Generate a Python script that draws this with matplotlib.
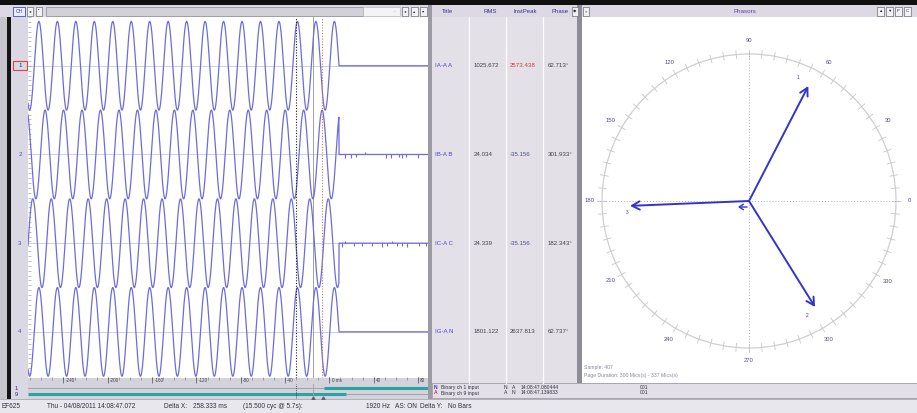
import numpy as np
import matplotlib.pyplot as plt
from matplotlib.patches import Rectangle, Circle
from matplotlib.transforms import blended_transform_factory

plt.rcParams['font.family'] = ['Liberation Sans', 'DejaVu Sans']

W, H = 917, 413

# ─────────────────────────────────────────────
# Data
# ─────────────────────────────────────────────

channel_nums   = ["1", "2", "3", "4"]
channel_pos    = [1, 2, 3, 4]
channel_titles = ["IA-A A", "IB-A B", "IC-A C", "IG-A N"]
rms_text       = ["1025.672", "24.034", "24.339", "1801.122"]
peak_text      = ["2573.438", "-35.156", "-35.156", "2637.813"]
phase_deg      = [62.713, 301.933, 182.343, 62.737]
wave_amp       = [0.5, 0.5, 0.5, 0.5]

freq_hz  = 60.0
t_ref_ms = 7.4      # where the 0 deg reference sits on the time axis
trip_ms  = 8.6      # currents stop here
t_start, t_end = -272.0, 89.0

# small residual blips after the trip (ms, value in channel units)
ch2_blip_ms  = [14.4, 19.8, 24.3, 32.4, 51.4, 55.9, 63.0, 65.8, 69.4, 80.2]
ch2_blip_val = [-0.04, -0.035, -0.03, 0.03, -0.035, -0.04, -0.03, -0.04, -0.03, -0.035]
ch3_blip_ms  = [11.7, 14.4, 22.5, 29.7, 38.7, 47.7, 52.3, 56.8, 61.3, 65.8, 70.3, 81.1, 87.4]
ch3_blip_val = [-0.04, 0.03, -0.03, -0.035, -0.03, -0.04, -0.03, 0.025, -0.035, -0.03, -0.04, -0.035, -0.03]

time_ticks  = [-240, -200, -160, -120, -80, -40, 0, 40, 80]
time_labels = ["-240", "-200", "-160", "-120", "-80", "-40", "0 ms", "40", "80"]
cursor_ms   = [-30.5, -14.5, -6.5]

binary_names  = ["1", "9"]
binary_edges  = [[-272.0, -4.5, 89.0], [-272.0, 15.3, 89.0]]
binary_states = [[0, 1], [1, 0]]
binary_rows   = ["Binary ch 1 input", "Binary ch 9 input"]
binary_flags  = [("N", "A"), ("A", "N")]
binary_times  = ["14:08:47.080444", "14:08:47.139833"]
binary_count  = ["001", "001"]

phasor_ids   = ["1", "2", "3"]
phasor_angle = [62.713, 301.933, 182.343]
phasor_len   = [0.88, 0.85, 0.81]      # fraction of ring radius
ring_labels  = [0, 30, 60, 90, 120, 150, 180, 210, 240, 270, 300, 330]

# ─────────────────────────────────────────────
# Colours
# ─────────────────────────────────────────────

HEAD   = "#dcd9e4"
PANEL  = "#dad8e2"
TABLE  = "#e4e0e8"
WAVE   = "#6c6cdc"
PHASOR = "#3434c8"
TEAL   = "#2aa3a3"
TXT    = "#34348a"

fig = plt.figure(figsize=(W / 100, H / 100), dpi=100)
fig.patch.set_facecolor("#d4d2da")


def px_axes(x0, y0, x1, y1):
    return fig.add_axes([x0 / W, 1 - y1 / H, (x1 - x0) / W, (y1 - y0) / H])


cv = px_axes(0, 0, W, H)
cv.set_xlim(0, W)
cv.set_ylim(H, 0)
cv.axis("off")


def rect(x0, y0, x1, y1, fc, ec="none", lw=0.0):
    cv.add_patch(Rectangle((x0, y0), x1 - x0, y1 - y0, fc=fc, ec=ec, lw=lw))


def button(x0, x1, glyph, y0=6.5, y1=15.5):
    rect(x0, y0, x1, y1, "#f2f2f4", "#6e6e78", 0.5)
    cv.text((x0 + x1) / 2, (y0 + y1) / 2 + 0.3, glyph, fontsize=3.2,
            ha="center", va="center", color="#303040")


# ─────────────────────────────────────────────
# Window chrome
# ─────────────────────────────────────────────

rect(0, 0, W, 4.5, "#101010")
rect(0, 4.5, W, 17, HEAD)
rect(0, 17, 7, 399, "#c6c4cc")
rect(7, 17, 11, 399, "#141414")
rect(11, 17, 28, 399, PANEL)
rect(428, 4.5, 432, 399, "#9c9aa4")
rect(432, 17, 577, 383, TABLE)
for xd in [469, 506, 543]:
    cv.plot([xd, xd], [17, 383], color="white", lw=0.9)
rect(577, 4.5, 582, 383, "#8e8c96")
rect(432, 383, W, 398, "#e2dfe8", "#a09ea8", 0.6)
rect(0, 399, W, 413, "#e9e7ee")
cv.plot([0, W], [399, 399], color="#a8a6b0", lw=0.6)

# left header
rect(13, 6.5, 25, 15.5, "#ececf6", "#4a4ac0", 0.6)
cv.text(19, 11.3, "CH", fontsize=3.6, ha="center", va="center", color="#3a3ab0")
button(27, 33, "◂")
button(36, 42, "•")
rect(46, 6.5, 363, 15.5, "#d2d0d8", "#8a8a92", 0.5)
rect(363, 6.5, 400, 15.5, "#f4f4f6", "#b0b0b8", 0.4)
cv.text(394, 11.3, "·", fontsize=4, ha="center", va="center", color="#505050")
button(402, 408, "◂")
button(411, 418, "▴")
button(420, 427, "▾")

# table header
for x, s in zip([448, 490, 525, 560], ["Title", "RMS", "InstPeak", "Phase"]):
    cv.text(x, 11.3, s, fontsize=4.3, ha="center", va="center", color=TXT)
button(572, 578, "◆")
button(583, 589, "×")

# phasor header
cv.text(745, 11.3, "Phasors", fontsize=4.5, ha="center", va="center", color="#6040a0")
for x0, g in zip([877, 886, 895, 904], ["▲", "▼", "P", "C"]):
    button(x0, x0 + 7, g)

# ─────────────────────────────────────────────
# Waveforms
# ─────────────────────────────────────────────

ax = px_axes(28, 17, 428, 378)
ax.set_facecolor("white")
ax.set_xlim(t_start, t_end)
ax.set_ylim(4.52, 0.45)
for sp in ax.spines.values():
    sp.set_visible(False)
ax.set_xticks([])
ax.set_yticks([])
ax.set_yticks(np.arange(0.45, 4.52, 0.055), minor=True)
ax.tick_params(axis="y", which="minor", direction="in", length=2.5,
               width=0.4, color="#8c8ca0", labelleft=False)

t = np.linspace(t_start, t_end, 4000)
omega = 2 * np.pi * freq_hz / 1000.0
for k in range(4):
    y = wave_amp[k] * np.cos(omega * (t - t_ref_ms) + np.deg2rad(phase_deg[k]))
    y[t > trip_ms] = 0.0
    ax.axhline(channel_pos[k], color="#c4c4ee", lw=0.6, zorder=1)
    ax.plot(t, channel_pos[k] - y, color=WAVE, lw=0.9, zorder=3)

ax.vlines(ch2_blip_ms, channel_pos[1], channel_pos[1] - np.array(ch2_blip_val),
          color=WAVE, lw=0.8, zorder=3)
ax.vlines(ch3_blip_ms, channel_pos[2], channel_pos[2] - np.array(ch3_blip_val),
          color=WAVE, lw=0.8, zorder=3)

ax.axvline(cursor_ms[0], color="#202020", ls=(0, (1, 1.5)), lw=0.8, zorder=4)
ax.axvline(cursor_ms[1], color="#a0a0a0", lw=0.7, zorder=2)
ax.axvline(cursor_ms[2], color="#e07050", ls=(0, (1, 1.5)), lw=0.8, zorder=4)

# channel numbers in the gutter
gut = blended_transform_factory(cv.transData, ax.transData)
for k in range(4):
    cv.text(20, channel_pos[k], channel_nums[k], transform=gut, fontsize=4.5,
            ha="center", va="center",
            color="#303060" if k == 0 else "#5050c0")
cv.add_patch(Rectangle((13, channel_pos[0] - 0.05), 14, 0.1, transform=gut,
                       fill=False, ec="#e04040", lw=0.8))

# table rows
for k in range(4):
    cv.text(435, channel_pos[k], channel_titles[k], transform=gut, fontsize=4.4,
            ha="left", va="center", color="#4848d8")
    cv.text(474, channel_pos[k], rms_text[k], transform=gut, fontsize=4.4,
            ha="left", va="center", color="#404048")
    cv.text(510, channel_pos[k], peak_text[k], transform=gut, fontsize=4.4,
            ha="left", va="center",
            color="#d03a3a" if k == 0 else ("#4a4a9a" if k in (1, 2) else "#404048"))
    cv.text(548, channel_pos[k], f"{phase_deg[k]:.3f}°", transform=gut, fontsize=4.4,
            ha="left", va="center", color="#404048")

# ─────────────────────────────────────────────
# Time ruler
# ─────────────────────────────────────────────

ru = px_axes(28, 377, 428, 384)
ru.set_facecolor("#f4f4f8")
ru.set_xlim(t_start, t_end)
ru.set_ylim(0, 1)
ru.axis("off")
ru.vlines(np.arange(-270, 90, 10), 0.55, 1.0, color="#707080", lw=0.4)
ru.vlines(time_ticks, 0.2, 1.0, color="#505060", lw=0.5)
for tk, lb in zip(time_ticks, time_labels):
    ru.text(tk + 2, 0.45, lb, fontsize=3.3, ha="left", va="center", color="#404050")

# ─────────────────────────────────────────────
# Binary channels
# ─────────────────────────────────────────────

bx = px_axes(28, 384, 428, 399)
bx.set_facecolor("white")
bx.set_xlim(t_start, t_end)
bx.set_ylim(1, 0)
bx.axis("off")
rows_y = [0.28, 0.68]
for r in range(2):
    ed = binary_edges[r]
    for s in range(len(binary_states[r])):
        if binary_states[r][s]:
            bx.plot([ed[s], ed[s + 1]], [rows_y[r], rows_y[r]], color=TEAL, lw=2.2,
                    solid_capstyle="butt")
        else:
            bx.plot([ed[s], ed[s + 1]], [rows_y[r], rows_y[r]], color="#9a9aa4", lw=0.6)
    cv.text(16, 384 + 15 * rows_y[r], binary_names[r], fontsize=4.2, ha="center",
            va="center", color="#303080")
bx.axvline(cursor_ms[0], color="#202020", ls=(0, (1, 1.5)), lw=0.6)
bx.axvline(cursor_ms[1], color="#a0a0a0", lw=0.6)
bx.plot([cursor_ms[1], cursor_ms[2] + 1], [0.92, 0.92], ls="none", marker="^",
        ms=2.2, color="#606070")

# binary list on the right
for r in range(2):
    yy = 387.5 + 5.5 * r
    cv.text(434, yy, binary_flags[r][0], fontsize=3.6, ha="left", va="center",
            color="#3434c8" if r == 0 else "#d03a3a", fontweight="bold")
    cv.text(441, yy, binary_rows[r], fontsize=3.6, ha="left", va="center", color="#303040")
    cv.text(504, yy, binary_flags[r][0], fontsize=3.6, ha="left", va="center", color="#303040")
    cv.text(512, yy, binary_flags[r][1], fontsize=3.6, ha="left", va="center", color="#303040")
    cv.text(521, yy, binary_times[r], fontsize=3.6, ha="left", va="center", color="#303040")
    cv.text(640, yy, binary_count[r], fontsize=3.6, ha="left", va="center", color="#303040")

# ─────────────────────────────────────────────
# Phasor diagram
# ─────────────────────────────────────────────

pa = px_axes(582, 17, 917, 383)
pa.set_facecolor("white")
pa.set_xlim(-167, 168)
pa.set_ylim(-182, 184)
pa.set_xticks([])
pa.set_yticks([])
for sp in pa.spines.values():
    sp.set_visible(False)

R = 147
pa.add_patch(Circle((0, 0), R, fill=False, ec="#cfcfd4", lw=0.9))
for a in np.deg2rad(np.arange(0, 360, 5)):
    pa.plot([(R - 4) * np.cos(a), (R + 4) * np.cos(a)],
            [(R - 4) * np.sin(a), (R + 4) * np.sin(a)], color="#c8c8cc", lw=0.6)
for lab in ring_labels:
    a = np.deg2rad(lab)
    pa.text((R + 13) * np.cos(a), (R + 13) * np.sin(a), str(lab), fontsize=4.2,
            ha="center", va="center", color="#505090")
pa.plot([-152, 152], [0, 0], color="#b0b0b8", ls=(0, (1, 2)), lw=0.7)
pa.plot([0, 0], [-150, 150], color="#b0b0b8", ls=(0, (1, 2)), lw=0.7)

lab_shift = [5.7, -5.1, 3.0]
for pid, ang, ln, sh in zip(phasor_ids, phasor_angle, phasor_len, lab_shift):
    a = np.deg2rad(ang)
    tip = (ln * R * np.cos(a), ln * R * np.sin(a))
    pa.annotate("", xy=tip, xytext=(0, 0),
                arrowprops=dict(arrowstyle="->,head_length=0.55,head_width=0.3",
                                color=PHASOR, lw=1.4, shrinkA=0, shrinkB=0))
    b = np.deg2rad(ang + sh)
    pa.text(ln * R * 1.03 * np.cos(b), ln * R * 1.03 * np.sin(b), pid, fontsize=3.5,
            ha="center", va="center", color=PHASOR)
pa.annotate("", xy=(-11, -6), xytext=(-2, -6),
            arrowprops=dict(arrowstyle="->,head_length=0.3,head_width=0.2",
                            color=PHASOR, lw=1.0, shrinkA=0, shrinkB=0))

pa.text(-165, -167, "Sample: 407", fontsize=3.7, ha="left", va="center", color="#8888a0")
pa.text(-165, -175, "Page Duration: 300 Mics(s) - 337 Mics(s)", fontsize=3.7,
        ha="left", va="center", color="#8888a0")

# ─────────────────────────────────────────────
# Status bar
# ─────────────────────────────────────────────

status = [(2, "EF625"), (47, "Thu - 04/08/2011 14:08:47.072"), (164, "Delta X:"),
          (193, "258.333 ms"), (243, "(15.500 cyc @ 5.7s):"), (366, "1920 Hz"),
          (395, "AS: ON"), (420, "Delta Y:"), (448, "No Bars")]
for x, s in status:
    cv.text(x, 406.5, s, fontsize=4.7, ha="left", va="center", color="#303040")

fig.savefig("out.png", dpi=100, facecolor=fig.get_facecolor())
